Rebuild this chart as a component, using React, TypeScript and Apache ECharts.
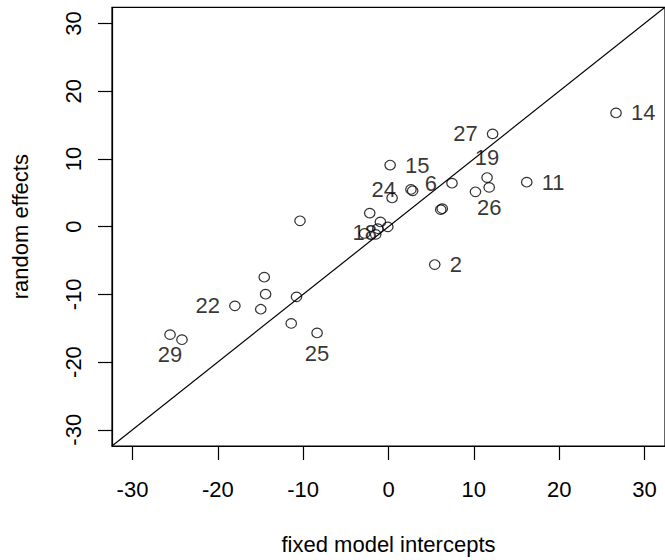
import React, { useEffect, useRef } from "react";
import * as echarts from "echarts";

// fixed model intercepts (x) and random effects (y) per group
const fixedIntercepts = [
  -25.6, -24.2, -18.0, -14.56, -14.4, -14.97, -10.78, -11.4, -8.37, -10.37,
  -2.2, -0.95, -0.08, -1.5, -2.8, -1.25, 0.19, 0.42, 2.63, 2.83,
  7.44, 6.12, 6.3, 11.55, 11.8, 10.19, 5.42, 26.66, 12.2, 16.2,
];
const randomEffects = [
  -15.95, -16.7, -11.7, -7.46, -9.98, -12.2, -10.37, -14.3, -15.7, 0.86,
  2.0, 0.7, -0.03, -1.15, -1.0, -0.3, 9.1, 4.24, 5.5, 5.3,
  6.42, 2.5, 2.65, 7.25, 5.8, 5.15, -5.6, 16.8, 13.7, 6.57,
];
const pointIds = [
  "29", "", "22", "", "", "", "", "", "25", "",
  "", "", "", "18", "", "", "15", "", "24", "",
  "6", "", "", "19", "26", "", "2", "14", "27", "11",
];
const tickValues = [-30, -20, -10, 0, 10, 20, 30];
const axisLimits = [-32.4, 32.4];

const FONT = "'Liberation Sans', Arial, Helvetica, sans-serif";
const FS = 22;

const labelPlacement: Record<string, any> = {
  "29": { position: "bottom", distance: 4 },
  "25": { position: "bottom", distance: 4 },
  "26": { position: "bottom", distance: 4 },
  "19": { position: "top", distance: 4 },
  "22": { position: "left", distance: 9 },
  "24": { position: "left", distance: 9 },
  "6": { position: "left", distance: 9 },
  "27": { position: "left", distance: 9 },
  "15": { position: "right", distance: 9 },
  "2": { position: "right", distance: 9 },
  "14": { position: "right", distance: 9 },
  "11": { position: "right", distance: 9 },
  "18": { position: "inside", offset: [-11, -2] },
};

export default function App() {
  const ref = useRef<HTMLDivElement>(null);
  useEffect(() => {
    if (!ref.current) return;
    const chart = echarts.init(ref.current, null, { renderer: "svg" });
    const scatterData = fixedIntercepts.map((x, i) => {
      const id = pointIds[i];
      const item: any = { value: [x, randomEffects[i]] };
      if (id) {
        item.label = {
          show: true,
          formatter: id,
          color: "#000",
          fontSize: FS,
          fontFamily: FONT,
          ...labelPlacement[id],
        };
      }
      return item;
    });
    const axisCommon = {
      type: "value",
      min: axisLimits[0],
      max: axisLimits[1],
      splitLine: { show: false },
      axisLine: { show: true, onZero: false, lineStyle: { color: "#000", width: 1.2 } },
      axisTick: {
        show: true,
        inside: false,
        length: 14,
        customValues: tickValues,
        lineStyle: { color: "#000", width: 1.2 },
      },
      nameLocation: "middle",
      nameTextStyle: { color: "#000", fontSize: FS, fontFamily: FONT },
    };
    chart.setOption({
      animation: false,
      backgroundColor: "#fff",
      textStyle: { fontFamily: FONT, color: "#000" },
      grid: {
        left: 112,
        top: 7.3,
        width: 557.3,
        height: 445,
        show: true,
        borderColor: "#000",
        borderWidth: 1.2,
        containLabel: false,
      },
      xAxis: {
        ...axisCommon,
        name: "fixed model intercepts",
        nameGap: 87,
        axisLabel: {
          customValues: tickValues,
          color: "#000",
          fontSize: FS,
          fontFamily: FONT,
          margin: 32,
        },
      },
      yAxis: {
        ...axisCommon,
        name: "random effects",
        nameGap: 81,
        axisLabel: {
          customValues: tickValues,
          color: "#000",
          fontSize: FS,
          fontFamily: FONT,
          rotate: 90,
          margin: 28,
        },
      },
      series: [
        {
          type: "line",
          data: [
            [axisLimits[0], axisLimits[0]],
            [axisLimits[1], axisLimits[1]],
          ],
          showSymbol: false,
          symbol: "none",
          lineStyle: { color: "#000", width: 1.2 },
          silent: true,
          clip: true,
        },
        {
          type: "scatter",
          data: scatterData,
          symbol: "circle",
          symbolSize: [10.5, 9.5],
          itemStyle: {
            color: "rgba(0,0,0,0)",
            borderColor: "#000",
            borderWidth: 1.2,
          },
        },
      ],
    });
    return () => chart.dispose();
  }, []);
  return (
    <div
      ref={ref}
      style={{ position: "absolute", left: 0, top: 0, width: 665, height: 560 }}
    />
  );
}
